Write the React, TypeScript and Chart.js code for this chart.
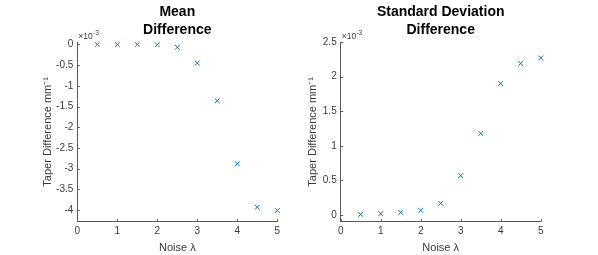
import React, { useEffect, useRef } from "react";
import { Chart, registerables } from "chart.js";

Chart.register(...registerables);

// Data (values in units of 1e-3 mm^-1)
const noiseLevels = [0.5, 1, 1.5, 2, 2.5, 3, 3.5, 4, 4.5, 5];
const meanDifference = [0, 0, 0, -0.005, -0.07, -0.45, -1.36, -2.88, -3.93, -4.01];
const stdDifference = [0.01, 0.02, 0.04, 0.07, 0.17, 0.57, 1.18, 1.9, 2.19, 2.27];
const xTickValues = [0, 1, 2, 3, 4, 5];
const meanTickValues = [-4, -3.5, -3, -2.5, -2, -1.5, -1, -0.5, 0];
const stdTickValues = [0, 0.5, 1, 1.5, 2, 2.5];
const meanTitle = ["Mean", "Difference"];
const stdTitle = ["Standard Deviation", "Difference"];
const yAxisTitle = "Taper Difference mm\u207B\u00B9";
const xAxisTitle = "Noise \u03BB";
const exponentBase = "\u00D710";
const exponentPower = "-3";

const FONT = "'Liberation Sans', Arial, Helvetica, sans-serif";
const TEXT = "#3a3a3a";
const AXIS = "#5a5a5a";
const MARK = "#0072BD";
const H = 255;

type PanelProps = {
  values: number[];
  yMin: number;
  yMax: number;
  yTicks: number[];
  title: string[];
  width: number;
  areaLeft: number;
  areaRight: number;
  yTitleCenter: number;
};

function Panel(p: PanelProps) {
  const ref = useRef<HTMLCanvasElement | null>(null);
  useEffect(() => {
    const canvas = ref.current!;
    const decorPlugin = {
      id: "decor" + Math.random().toString(36).slice(2),
      afterDatasetsDraw(chart: any) {
        const ctx = chart.ctx as CanvasRenderingContext2D;
        const xs = chart.scales.x;
        const ys = chart.scales.y;
        const area = chart.chartArea;
        ctx.save();
        ctx.strokeStyle = AXIS;
        ctx.lineWidth = 1;
        ctx.beginPath();
        for (const v of xTickValues) {
          const px = Math.round(xs.getPixelForValue(v)) + 0.5;
          ctx.moveTo(px, area.bottom);
          ctx.lineTo(px, area.bottom - 2.5);
        }
        for (const v of p.yTicks) {
          const py = Math.round(ys.getPixelForValue(v)) + 0.5;
          ctx.moveTo(area.left, py);
          ctx.lineTo(area.left + 2.5, py);
        }
        ctx.stroke();
        // exponent label
        ctx.fillStyle = TEXT;
        ctx.textBaseline = "alphabetic";
        ctx.textAlign = "left";
        ctx.font = `8.5px ${FONT}`;
        const ex = area.left + 1;
        const ey = area.top - 3;
        ctx.fillText(exponentBase, ex, ey);
        const w = ctx.measureText(exponentBase).width;
        ctx.font = `6.5px ${FONT}`;
        ctx.fillText(exponentPower, ex + w + 0.3, ey - 4.5);
        ctx.restore();
      },
    };
    const chart = new Chart(canvas, {
      type: "scatter",
      data: {
        datasets: [
          {
            data: noiseLevels.map((x, i) => ({ x, y: p.values[i] })),
            pointStyle: "crossRot",
            pointRadius: 3.4,
            pointBorderWidth: 1,
            borderColor: MARK,
            backgroundColor: MARK,
            showLine: false,
            clip: false as any,
          },
        ],
      },
      options: {
        animation: false,
        responsive: false,
        devicePixelRatio: 1,
        layout: { padding: { left: 0, right: p.width - p.areaRight, top: 0, bottom: 0 } },
        plugins: {
          legend: { display: false },
          tooltip: { enabled: false },
          title: {
            display: true,
            text: p.title,
            fullSize: false,
            color: "#000",
            font: { family: FONT, size: 14, weight: "bold", lineHeight: 1.3 },
            padding: { top: 3.2, bottom: 2.4 },
          },
        },
        scales: {
          x: {
            type: "linear",
            min: 0,
            max: 5,
            afterBuildTicks: (s: any) => {
              s.ticks = xTickValues.map((v) => ({ value: v }));
            },
            afterFit: (s: any) => {
              s.height = H - 221.7;
            },
            grid: { display: false, drawTicks: false },
            border: { display: true, color: AXIS, width: 1 },
            ticks: {
              color: TEXT,
              font: { family: FONT, size: 10 },
              padding: 4,
              maxRotation: 0,
              callback: (v: any) => String(v),
            },
            title: {
              display: true,
              text: xAxisTitle,
              color: TEXT,
              font: { family: FONT, size: 11 },
              padding: { top: 0, bottom: 0.2 },
            },
          },
          y: {
            type: "linear",
            min: p.yMin,
            max: p.yMax,
            afterBuildTicks: (s: any) => {
              s.ticks = p.yTicks.map((v) => ({ value: v }));
            },
            afterFit: (s: any) => {
              s.width = p.areaLeft;
            },
            grid: { display: false, drawTicks: false },
            border: { display: true, color: AXIS, width: 1 },
            ticks: {
              color: TEXT,
              font: { family: FONT, size: 10 },
              padding: 4,
              callback: (v: any) => String(v),
            },
            title: {
              display: true,
              text: yAxisTitle,
              color: TEXT,
              font: { family: FONT, size: 11, lineHeight: 1.2 },
              padding: { top: p.yTitleCenter - 6.6, bottom: 0 },
            },
          },
        },
      },
      plugins: [decorPlugin],
    } as any);
    return () => chart.destroy();
  }, []);
  return <canvas ref={ref} width={p.width} height={H} style={{ display: "block" }} />;
}

export default function App() {
  return (
    <div style={{ position: "absolute", left: 0, top: 0, width: 598, height: H, background: "#fff", display: "flex" }}>
      <Panel
        values={meanDifference}
        yMin={-4.28}
        yMax={0.06}
        yTicks={meanTickValues}
        title={meanTitle}
        width={300}
        areaLeft={77.3}
        areaRight={277.3}
        yTitleCenter={47.5}
      />
      <Panel
        values={stdDifference}
        yMin={-0.095}
        yMax={2.5}
        yTicks={stdTickValues}
        title={stdTitle}
        width={298}
        areaLeft={40.7}
        areaRight={240.7}
        yTitleCenter={13.3}
      />
    </div>
  );
}
